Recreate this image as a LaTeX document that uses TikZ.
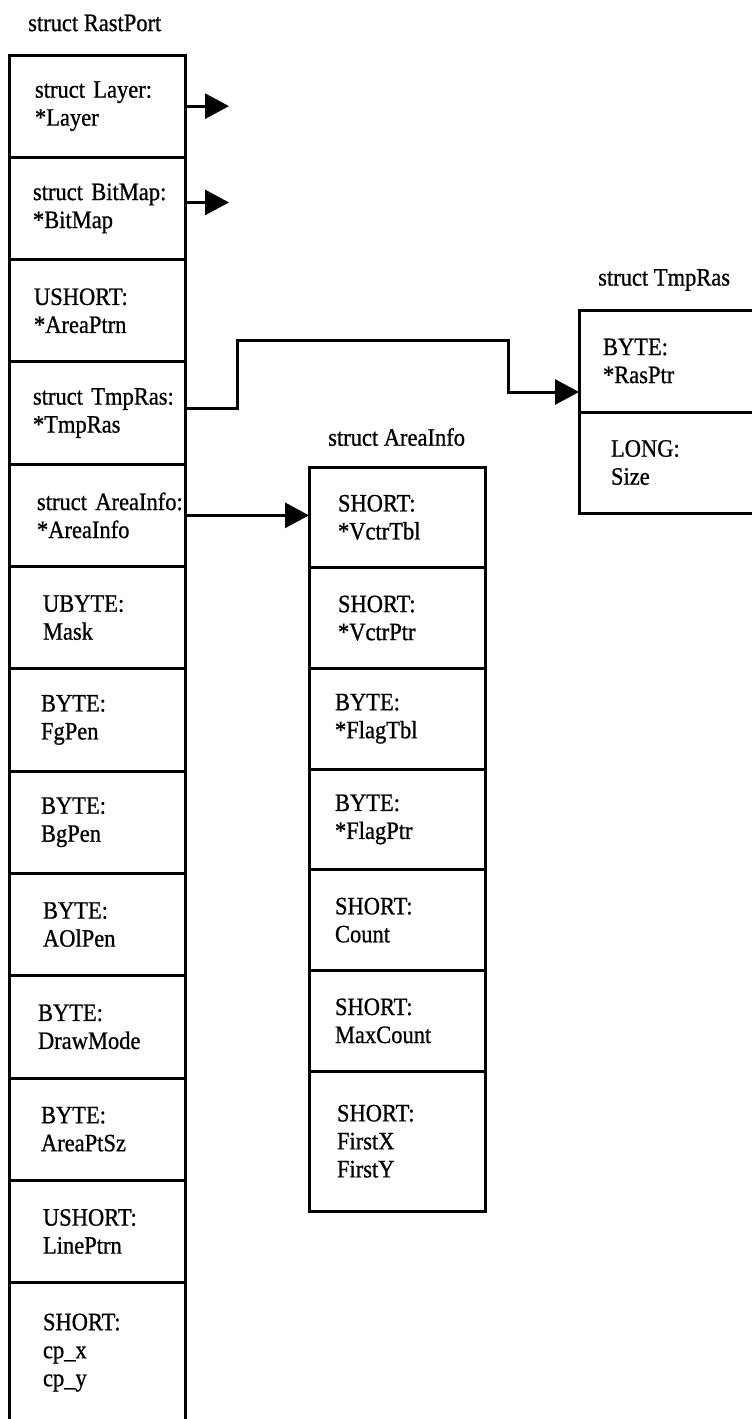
\documentclass[tikz,border=0pt]{standalone}
\usepackage{fontspec}
\setmainfont{Liberation Serif}[FakeStretch=0.9, FakeBold=0.8]
\usepackage{tikz}
\usetikzlibrary{arrows.meta,positioning}
\tikzset{
  field/.style={
    rectangle, draw=black, line width=3pt,
    inner sep=0pt, outer sep=0pt,
    text width=176pt, minimum height=102.3pt,
    font=\fontsize{25}{28}\selectfont,
    execute at begin node={\parindent=0pt\leftskip=#1\rightskip=0pt plus 1fil\relax}
  },
  field/.default=32pt,
  aifield/.style={field=#1, minimum height=100.7pt},
  aifield/.default=26pt,
  structname/.style={font=\fontsize{25}{28}\selectfont, anchor=west, inner sep=0pt},
  ptr/.style={-{Triangle[length=24pt, width=25pt]}, line width=3pt},
}

\begin{document}
\begin{tikzpicture}[x=1pt, y=-1pt]
  \useasboundingbox (0,0) rectangle (752,1419);
  \clip (0,0) rectangle (752,1419);

  % struct RastPort
  \node[field=26pt, anchor=north west] (rpLayer) at (9,55) {\mbox{struct Layer:}\\{}*Layer};
  \node[field=24pt, below=0pt of rpLayer] (rpBitMap) {\mbox{struct BitMap:}\\{}*BitMap};
  \node[field=25pt, below=0pt of rpBitMap] (rpAreaPtrn) {USHORT:\\{}*AreaPtrn};
  \node[field=24pt, below=0pt of rpAreaPtrn] (rpTmpRas) {\mbox{struct TmpRas:}\\{}*TmpRas};
  \node[field=28pt, below=0pt of rpTmpRas] (rpAreaInfo) {\mbox{struct AreaInfo:}\\{}*AreaInfo};
  \node[field=34pt, below=0pt of rpAreaInfo] (rpMask) {UBYTE:\\Mask};
  \node[field, below=0pt of rpMask] (rpFgPen) {BYTE:\\FgPen};
  \node[field, below=0pt of rpFgPen] (rpBgPen) {BYTE:\\BgPen};
  \node[field=34pt, below=0pt of rpBgPen] (rpAOlPen) {BYTE:\\AOlPen};
  \node[field=29pt, below=0pt of rpAOlPen] (rpDrawMode) {BYTE:\\DrawMode};
  \node[field, below=0pt of rpDrawMode] (rpAreaPtSz) {BYTE:\\AreaPtSz};
  \node[field=34pt, below=0pt of rpAreaPtSz] (rpLinePtrn) {USHORT:\\LinePtrn};
  \node[field=34pt, minimum height=140pt, below=0pt of rpLinePtrn] (rpCp) {SHORT:\\cp\_x\\cp\_y};
  \node[structname] (rpTitle) at ([xshift=19pt, yshift=32pt]rpLayer.north west) {struct RastPort};

  % struct AreaInfo
  \node[aifield=29pt, anchor=north west] (aiVctrTbl) at (309,467) {SHORT:\\{}*VctrTbl};
  \node[aifield=29pt, below=0pt of aiVctrTbl] (aiVctrPtr) {SHORT:\\{}*VctrPtr};
  \node[aifield, below=0pt of aiVctrPtr] (aiFlagTbl) {BYTE:\\{}*FlagTbl};
  \node[aifield, below=0pt of aiFlagTbl] (aiFlagPtr) {BYTE:\\{}*FlagPtr};
  \node[aifield, below=0pt of aiFlagPtr] (aiCount) {SHORT:\\Count};
  \node[aifield, below=0pt of aiCount] (aiMaxCount) {SHORT:\\MaxCount};
  \node[aifield=28pt, minimum height=140pt, below=0pt of aiMaxCount] (aiFirst) {SHORT:\\FirstX\\FirstY};
  \node[structname] (aiTitle) at ([xshift=19pt, yshift=30pt]aiVctrTbl.north west) {struct AreaInfo};

  % struct TmpRas
  \node[field=24pt, anchor=north west, minimum height=102pt] (trRasPtr) at (579,310) {BYTE:\\{}*RasPtr};
  \node[field=32pt, minimum height=101pt, below=0pt of trRasPtr] (trSize) {LONG:\\Size};
  \node[structname] (trTitle) at ([xshift=19pt, yshift=30pt]trRasPtr.north west) {struct TmpRas};

  % pointers
  \coordinate (layerEnd) at ([xshift=44pt]rpLayer.east);
  \coordinate (bitmapEnd) at ([xshift=44pt, yshift=6pt]rpBitMap.east);
  \draw[ptr] (rpLayer.east) -- (layerEnd);
  \draw[ptr] ([yshift=6pt]rpBitMap.east) -- (bitmapEnd);
  \draw[ptr] ([yshift=5pt]rpTmpRas.east) -- ++(52,0)
    |- ([xshift=-71pt, yshift=21pt]trRasPtr.west) |- ([yshift=-31pt]trRasPtr.west);
  \draw[ptr] (rpAreaInfo.east) -- (rpAreaInfo.east -| aiVctrTbl.west);
\end{tikzpicture}
\end{document}
